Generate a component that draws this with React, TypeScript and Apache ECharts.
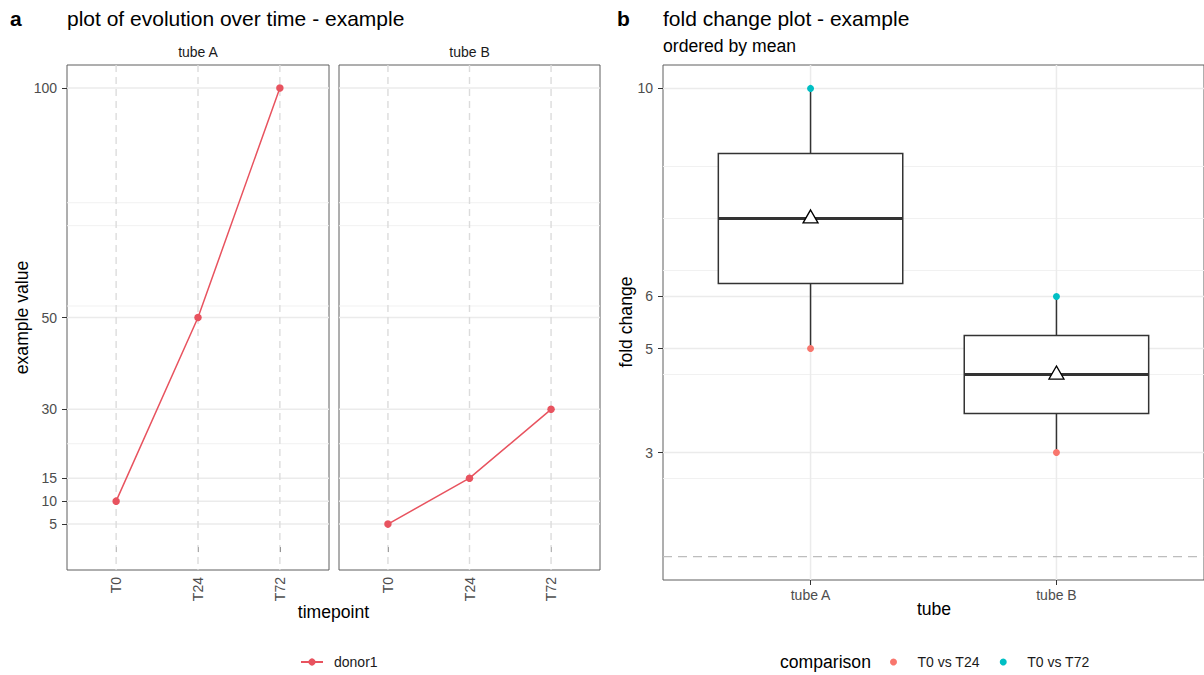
import React, { useEffect, useRef } from 'react';
import * as echarts from 'echarts';

// ---------- data ----------
const timepoints = ['T0', 'T24', 'T72'];
const tubes = ['tube A', 'tube B'];
const donorName = 'donor1';
const donorTubeA = [10, 50, 100];
const donorTubeB = [5, 15, 30];
const valueTicks = [5, 10, 15, 30, 50, 100];
const valueMinorGrid = [22.5, 52.5, 70, 75];

const comparisons = ['T0 vs T24', 'T0 vs T72'];
const foldT0vsT24 = [5, 3];
const foldT0vsT72 = [10, 6];
const foldTicks = [3, 5, 6, 10];
const foldMinorGrid = [2.5, 4.5, 6.5, 7.5, 8.5];
const foldReference = [1];

// ---------- styles ----------
const FONT = '"Liberation Sans", Arial, Helvetica, sans-serif';
const RED = '#E8535F';
const C24 = '#F8766D';
const C72 = '#00BFC4';
const TICK_TEXT = '#4D4D4D';
const BORDER = '#5E5E5E';
const GRID_MAJOR = '#EBEBEB';
const GRID_MINOR = '#F1F1F1';

function quantile(sorted: number[], p: number) {
  const h = (sorted.length - 1) * p;
  const lo = Math.floor(h);
  const hi = Math.ceil(h);
  return sorted[lo] + (h - lo) * (sorted[hi] - sorted[lo]);
}

const boxStats = tubes.map((_, i) => {
  const vals = [foldT0vsT24[i], foldT0vsT72[i]].sort((a, b) => a - b);
  return [i + 1, quantile(vals, 0.25), quantile(vals, 0.5), quantile(vals, 0.75), vals[0], vals[vals.length - 1]];
});
const boxMeans = tubes.map((_, i) => {
  const vals = [foldT0vsT24[i], foldT0vsT72[i]];
  return [i + 1, vals.reduce((a, b) => a + b, 0) / vals.length];
});

function hLines(xi: number, xRef: number, values: number[], stroke: string, width: number, dash?: number[], z = 1) {
  return {
    type: 'custom',
    xAxisIndex: xi,
    yAxisIndex: xi,
    z,
    silent: true,
    encode: { x: 0, y: 1 },
    data: values.map((v) => [xRef, v]),
    renderItem: (params: any, api: any) => {
      const cs = params.coordSys;
      const y = api.coord([api.value(0), api.value(1)])[1];
      return {
        type: 'line',
        shape: { x1: cs.x, y1: y, x2: cs.x + cs.width, y2: y },
        style: { stroke, lineWidth: width, lineDash: dash || null },
        silent: true,
      };
    },
  };
}

function vLines(xi: number, yRef: number, values: number[], stroke: string, width: number, dash?: number[], z = 1) {
  return {
    type: 'custom',
    xAxisIndex: xi,
    yAxisIndex: xi,
    z,
    silent: true,
    encode: { x: 0, y: 1 },
    data: values.map((v) => [v, yRef]),
    renderItem: (params: any, api: any) => {
      const cs = params.coordSys;
      const x = api.coord([api.value(0), api.value(1)])[0];
      return {
        type: 'line',
        shape: { x1: x, y1: cs.y, x2: x, y2: cs.y + cs.height },
        style: { stroke, lineWidth: width, lineDash: dash || null },
        silent: true,
      };
    },
  };
}

const catPos = (arr: string[]) => arr.map((_, i) => i + 1);

function leftX(gridIndex: number) {
  return {
    type: 'value',
    gridIndex,
    min: 0.4,
    max: 3.6,
    axisLine: { show: false },
    splitLine: { show: false },
    axisTick: { show: true, customValues: catPos(timepoints), length: 5, lineStyle: { color: '#333', width: 1 } },
    axisLabel: {
      customValues: catPos(timepoints),
      rotate: 90,
      margin: 7,
      fontSize: 14,
      color: TICK_TEXT,
      fontFamily: FONT,
      formatter: (v: number) => timepoints[Math.round(v) - 1] ?? '',
    },
  };
}

function leftY(gridIndex: number, showLabels: boolean) {
  return {
    type: 'value',
    gridIndex,
    min: -5,
    max: 105,
    axisLine: { show: false },
    splitLine: { show: false },
    axisTick: { show: showLabels, customValues: valueTicks, length: 5, lineStyle: { color: '#333', width: 1 } },
    axisLabel: {
      show: showLabels,
      customValues: valueTicks,
      margin: 10,
      fontSize: 14,
      color: TICK_TEXT,
      fontFamily: FONT,
    },
  };
}

function text(x: number, y: number, t: string, size: number, opts: any = {}) {
  return {
    type: 'text',
    x,
    y,
    rotation: opts.rotation || 0,
    silent: true,
    style: {
      text: t,
      fontSize: size,
      fontFamily: FONT,
      fontWeight: opts.bold ? 'bold' : 'normal',
      fill: opts.color || '#000',
      textAlign: opts.align || 'left',
      textVerticalAlign: 'middle',
    },
  };
}

export default function App() {
  const ref = useRef<HTMLDivElement>(null);

  useEffect(() => {
    if (!ref.current) return;
    const chart = echarts.init(ref.current, null, { renderer: 'svg' });

    const gridStyle = { show: true, borderColor: BORDER, borderWidth: 1, backgroundColor: '#fff' };

    const option: any = {
      animation: false,
      backgroundColor: '#fff',
      textStyle: { fontFamily: FONT },
      grid: [
        { ...gridStyle, left: 67, top: 65, width: 262, height: 505 },
        { ...gridStyle, left: 339, top: 65, width: 261, height: 505 },
        { ...gridStyle, left: 663, top: 65, width: 543, height: 515 },
      ],
      xAxis: [
        leftX(0),
        leftX(1),
        {
          type: 'value',
          gridIndex: 2,
          min: 0.4,
          max: 2.6,
          axisLine: { show: false },
          splitLine: { show: false },
          axisTick: { show: true, customValues: catPos(tubes), length: 5, lineStyle: { color: '#333', width: 1 } },
          axisLabel: {
            customValues: catPos(tubes),
            margin: 8,
            fontSize: 14,
            color: TICK_TEXT,
            fontFamily: FONT,
            formatter: (v: number) => tubes[Math.round(v) - 1] ?? '',
          },
        },
      ],
      yAxis: [
        leftY(0, true),
        leftY(1, false),
        {
          type: 'value',
          gridIndex: 2,
          min: 0.55,
          max: 10.45,
          axisLine: { show: false },
          splitLine: { show: false },
          axisTick: { show: true, customValues: foldTicks, length: 5, lineStyle: { color: '#333', width: 1 } },
          axisLabel: { customValues: foldTicks, margin: 10, fontSize: 14, color: TICK_TEXT, fontFamily: FONT },
        },
      ],
      legend: [
        {
          data: [donorName],
          left: 300,
          top: 655,
          padding: 0,
          itemWidth: 22,
          itemHeight: 9,
          selectedMode: false,
          textStyle: { fontSize: 14, color: '#1A1A1A', fontFamily: FONT, padding: [0, 0, 0, 6] },
        },
        {
          data: comparisons,
          left: 890,
          top: 655,
          padding: 0,
          icon: 'circle',
          itemWidth: 22,
          itemHeight: 7,
          itemGap: 20,
          selectedMode: false,
          textStyle: { fontSize: 14, color: '#1A1A1A', fontFamily: FONT, padding: [0, 0, 0, 8] },
        },
      ],
      graphic: [
        text(10, 18, 'a', 21, { bold: true }),
        text(67, 18, 'plot of evolution over time - example', 21),
        text(617, 18, 'b', 21, { bold: true }),
        text(663, 18, 'fold change plot - example', 21),
        text(663, 46, 'ordered by mean', 17.6),
        text(198, 52, tubes[0], 14, { align: 'center', color: '#1A1A1A' }),
        text(469.5, 52, tubes[1], 14, { align: 'center', color: '#1A1A1A' }),
        text(22, 317.5, 'example value', 17.6, { align: 'center', rotation: Math.PI / 2 }),
        text(333.5, 612, 'timepoint', 17.6, { align: 'center' }),
        text(626, 322, 'fold change', 17.6, { align: 'center', rotation: Math.PI / 2 }),
        text(934, 609, 'tube', 17.6, { align: 'center' }),
        text(780, 662, 'comparison', 17.6),
      ],
      series: [
        // left panel grids
        hLines(0, 0.4, valueMinorGrid, GRID_MINOR, 1),
        hLines(0, 0.4, valueTicks, GRID_MAJOR, 1.5),
        vLines(0, -5, catPos(timepoints), '#DCDCDC', 1.4, [7, 5]),
        hLines(1, 0.4, valueMinorGrid, GRID_MINOR, 1),
        hLines(1, 0.4, valueTicks, GRID_MAJOR, 1.5),
        vLines(1, -5, catPos(timepoints), '#DCDCDC', 1.4, [7, 5]),
        // right panel grids
        hLines(2, 0.4, foldMinorGrid, GRID_MINOR, 1),
        hLines(2, 0.4, foldTicks, GRID_MAJOR, 1.5),
        vLines(2, 0.55, catPos(tubes), GRID_MAJOR, 1.5),
        hLines(2, 0.4, foldReference, '#BDBDBD', 1.2, [9, 6], 2),
        {
          type: 'line',
          name: donorName,
          xAxisIndex: 0,
          yAxisIndex: 0,
          z: 5,
          data: timepoints.map((_, i) => [i + 1, donorTubeA[i]]),
          symbol: 'circle',
          symbolSize: 7.5,
          lineStyle: { color: RED, width: 1.5 },
          itemStyle: { color: RED },
        },
        {
          type: 'line',
          name: donorName,
          xAxisIndex: 1,
          yAxisIndex: 1,
          z: 5,
          data: timepoints.map((_, i) => [i + 1, donorTubeB[i]]),
          symbol: 'circle',
          symbolSize: 7.5,
          lineStyle: { color: RED, width: 1.5 },
          itemStyle: { color: RED },
        },
        {
          type: 'custom',
          name: 'box',
          xAxisIndex: 2,
          yAxisIndex: 2,
          z: 3,
          encode: { x: 0, y: [1, 2, 3, 4, 5] },
          data: boxStats,
          renderItem: (params: any, api: any) => {
            const x = api.value(0);
            const pQ1 = api.coord([x, api.value(1)]);
            const pMed = api.coord([x, api.value(2)]);
            const pQ3 = api.coord([x, api.value(3)]);
            const pLo = api.coord([x, api.value(4)]);
            const pHi = api.coord([x, api.value(5)]);
            const half = api.size([0.75, 0])[0] / 2;
            const stroke = '#333333';
            return {
              type: 'group',
              children: [
                { type: 'line', shape: { x1: pQ3[0], y1: pQ3[1], x2: pHi[0], y2: pHi[1] }, style: { stroke, lineWidth: 1.5 } },
                { type: 'line', shape: { x1: pQ1[0], y1: pQ1[1], x2: pLo[0], y2: pLo[1] }, style: { stroke, lineWidth: 1.5 } },
                {
                  type: 'rect',
                  shape: { x: pQ3[0] - half, y: pQ3[1], width: half * 2, height: pQ1[1] - pQ3[1] },
                  style: { fill: '#fff', stroke, lineWidth: 1.5 },
                },
                { type: 'line', shape: { x1: pMed[0] - half, y1: pMed[1], x2: pMed[0] + half, y2: pMed[1] }, style: { stroke, lineWidth: 3 } },
              ],
            };
          },
        },
        {
          type: 'scatter',
          name: comparisons[0],
          xAxisIndex: 2,
          yAxisIndex: 2,
          z: 6,
          symbol: 'circle',
          symbolSize: 7,
          itemStyle: { color: C24, opacity: 1 },
          data: tubes.map((_, i) => [i + 1, foldT0vsT24[i]]),
        },
        {
          type: 'scatter',
          name: comparisons[1],
          xAxisIndex: 2,
          yAxisIndex: 2,
          z: 6,
          symbol: 'circle',
          symbolSize: 7,
          itemStyle: { color: C72, opacity: 1 },
          data: tubes.map((_, i) => [i + 1, foldT0vsT72[i]]),
        },
        {
          type: 'scatter',
          name: 'mean',
          xAxisIndex: 2,
          yAxisIndex: 2,
          z: 7,
          symbol: 'triangle',
          symbolSize: [15, 13],
          symbolOffset: [0, -2],
          itemStyle: { color: '#fff', borderColor: '#000', borderWidth: 1.3, opacity: 1 },
          data: boxMeans,
        },
      ],
    };

    chart.setOption(option);
    return () => chart.dispose();
  }, []);

  return (
    <div
      ref={ref}
      style={{ position: 'fixed', left: 0, top: 0, width: 1204, height: 675, background: '#fff' }}
    />
  );
}
